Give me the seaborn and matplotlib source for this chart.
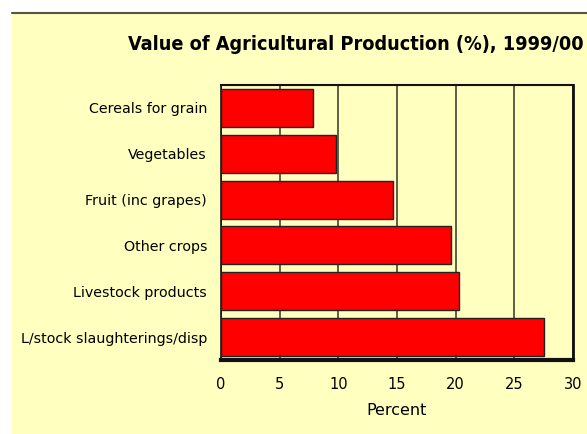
import matplotlib
matplotlib.use("Agg")
import matplotlib.pyplot as plt
import seaborn as sns
import pandas as pd
from matplotlib.patches import Rectangle
from matplotlib.lines import Line2D

# value of agricultural production by category, 1999/00 (%)
categories = ["Cereals for grain", "Vegetables", "Fruit (inc grapes)",
              "Other crops", "Livestock products", "L/stock slaughterings/disp"]
percent = [7.8, 9.8, 14.7, 19.6, 20.3, 27.5]
xticks = [0, 5, 10, 15, 20, 25, 30]

df = pd.DataFrame({"category": categories, "percent": percent})

sns.set_style("white")
plt.rcParams["font.family"] = ["DejaVu Sans"]
plt.rcParams["text.color"] = "black"
plt.rcParams["axes.labelcolor"] = "black"
plt.rcParams["xtick.color"] = "black"
plt.rcParams["ytick.color"] = "black"

yellow = "#FFFFC0"
fig = plt.figure(figsize=(5.87, 4.34), dpi=100, facecolor="white")

# yellow panel with a grey rule on top (drawn behind the axes)
fig.patches.append(Rectangle((12 / 587, 0), 1, 1 - 13 / 434, transform=fig.transFigure,
                             facecolor=yellow, edgecolor="none", zorder=-10))
fig.lines.append(Line2D([12 / 587, 1], [1 - 12.5 / 434] * 2, transform=fig.transFigure,
                        color="#555544", lw=1.5, zorder=-5))

ax = fig.add_axes([221 / 587, 1 - 360 / 434, (573 - 221) / 587, (360 - 85) / 434])
ax.set_zorder(5)
ax.set_facecolor(yellow)

sns.barplot(data=df, x="percent", y="category", orient="h", color="#FF0000",
            edgecolor="#222222", linewidth=1, width=0.83, saturation=1, ax=ax,
            zorder=3)

ax.set_xlim(0, 30)
ax.set_ylim(5.5, -0.5)
ax.set_xticks(xticks)
ax.set_xticklabels([str(t) for t in xticks])
ax.xaxis.grid(True, color="#444433", lw=1.2, zorder=1)
ax.set_axisbelow(True)
ax.tick_params(axis="x", length=0, pad=12, labelsize=10.5)
ax.tick_params(axis="y", length=0, pad=10, labelsize=10.3)
ax.set_xlabel("Percent", fontsize=11.5, labelpad=8)
ax.set_ylabel("")

for side, lw in [("top", 1.5), ("left", 1.2), ("right", 2.0), ("bottom", 3.0)]:
    ax.spines[side].set_visible(True)
    ax.spines[side].set_color("#111111")
    ax.spines[side].set_linewidth(lw)

fig.text(584 / 587, 1 - 45 / 434, "Value of Agricultural Production (%), 1999/00",
         ha="right", va="center", fontsize=14.2, fontweight="heavy",
         fontstretch="condensed", color="black")

fig.savefig("out.png", dpi=100, facecolor=fig.get_facecolor())
